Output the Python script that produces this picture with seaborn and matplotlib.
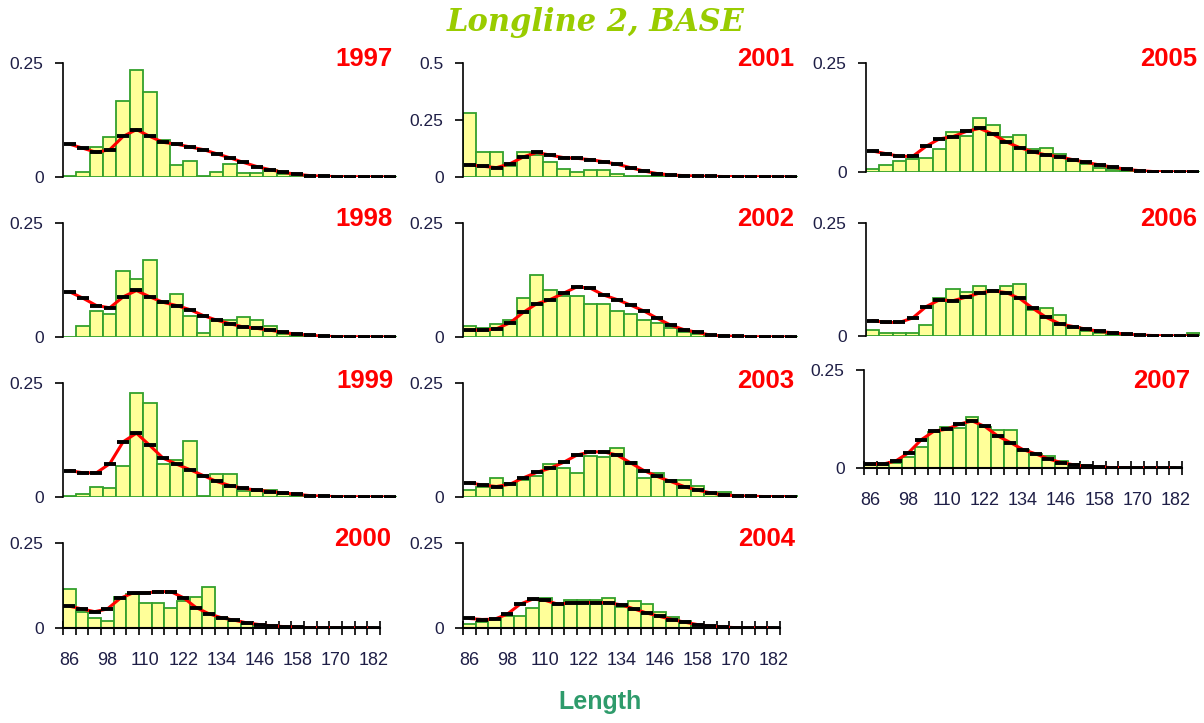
import numpy as np
import pandas as pd
import matplotlib
matplotlib.use("Agg")
import matplotlib.pyplot as plt
import seaborn as sns

# ---------------- data ----------------
lengths = [86, 90, 94, 98, 102, 106, 110, 114, 118, 122, 126, 130, 134, 138,
           142, 146, 150, 154, 158, 162, 166, 170, 174, 178, 182]
tick_labels = [86, 98, 110, 122, 134, 146, 158, 170, 182]
years = [1997, 1998, 1999, 2000, 2001, 2002, 2003, 2004, 2005, 2006, 2007]

obs_1997 = [0.003,0.012,0.065,0.087,0.166,0.234,0.187,0.082,0.027,0.034,0.003,0.012,0.028,0.009,0.009,0.015,0.007,0.001,0,0,0,0,0,0,0]
pred_1997 = [0.072,0.063,0.054,0.060,0.089,0.104,0.089,0.076,0.072,0.066,0.060,0.051,0.042,0.032,0.023,0.016,0.010,0.006,0.003,0.0015,0.001,0.0005,0.0003,0.0002,0.0001]
obs_1998 = [0.001,0.025,0.056,0.050,0.145,0.128,0.168,0.075,0.094,0.047,0.009,0.038,0.037,0.044,0.038,0.025,0.006,0.003,0.0015,0,0,0,0,0,0]
pred_1998 = [0.099,0.085,0.069,0.064,0.088,0.102,0.088,0.076,0.069,0.060,0.047,0.037,0.029,0.022,0.019,0.015,0.010,0.006,0.004,0.0015,0.001,0.0005,0.0003,0.0002,0.0001]
obs_1999 = [0.002,0.007,0.023,0.020,0.069,0.228,0.206,0.072,0.082,0.123,0.003,0.050,0.050,0.013,0.013,0.015,0.006,0.003,0.001,0.001,0,0,0,0,0]
pred_1999 = [0.058,0.053,0.053,0.073,0.121,0.140,0.113,0.085,0.072,0.060,0.047,0.034,0.025,0.019,0.015,0.012,0.009,0.006,0.003,0.0015,0.001,0.0005,0.0003,0.0002,0.0001]
obs_2000 = [0.115,0.046,0.029,0.021,0.092,0.101,0.075,0.075,0.059,0.080,0.092,0.122,0.029,0.020,0.013,0.009,0.005,0.003,0.002,0,0,0,0,0,0]
pred_2000 = [0.064,0.056,0.048,0.056,0.087,0.103,0.103,0.107,0.107,0.089,0.060,0.042,0.030,0.023,0.015,0.010,0.006,0.004,0.002,0.001,0.001,0.0005,0.0003,0.0002,0.0001]
obs_2001 = [0.281,0.111,0.111,0.050,0.111,0.097,0.067,0.035,0.023,0.029,0.029,0.012,0.006,0.003,0.003,0.002,0,0,0,0,0,0,0,0,0]
pred_2001 = [0.053,0.047,0.041,0.058,0.088,0.108,0.096,0.085,0.082,0.076,0.067,0.056,0.041,0.026,0.015,0.009,0.006,0.004,0.003,0.002,0.002,0.001,0.001,0.0005,0.0005]
obs_2002 = [0.025,0.019,0.028,0.038,0.085,0.135,0.104,0.091,0.091,0.072,0.072,0.057,0.050,0.038,0.031,0.019,0.010,0.006,0.0015,0,0,0,0,0,0]
pred_2002 = [0.015,0.015,0.018,0.031,0.054,0.073,0.082,0.096,0.110,0.107,0.092,0.082,0.070,0.057,0.041,0.026,0.016,0.010,0.004,0.002,0.0015,0.0005,0.0003,0.0002,0.0001]
obs_2003 = [0.016,0.023,0.041,0.031,0.038,0.047,0.072,0.064,0.053,0.091,0.088,0.107,0.076,0.041,0.053,0.037,0.037,0.025,0.009,0.010,0.003,0.003,0.001,0.001,0.003]
pred_2003 = [0.031,0.026,0.023,0.028,0.042,0.054,0.063,0.076,0.092,0.099,0.099,0.092,0.075,0.058,0.045,0.034,0.023,0.015,0.009,0.004,0.003,0.0015,0.001,0.001,0.001]
obs_2004 = [0.013,0.019,0.026,0.034,0.034,0.058,0.087,0.072,0.083,0.083,0.083,0.087,0.062,0.079,0.070,0.046,0.032,0.020,0.009,0.005,0.002,0,0,0,0]
pred_2004 = [0.028,0.025,0.026,0.041,0.070,0.085,0.081,0.070,0.074,0.075,0.075,0.074,0.068,0.056,0.044,0.034,0.025,0.017,0.010,0.005,0.003,0.001,0.0005,0.0003,0.0002]
obs_2005 = [0.007,0.016,0.025,0.029,0.033,0.053,0.092,0.082,0.124,0.107,0.081,0.085,0.052,0.055,0.042,0.025,0.018,0.010,0.005,0.002,0.001,0.0015,0,0,0]
pred_2005 = [0.048,0.042,0.036,0.036,0.059,0.076,0.081,0.093,0.100,0.087,0.069,0.056,0.046,0.039,0.035,0.028,0.022,0.016,0.011,0.006,0.003,0.001,0.0005,0.0003,0.0002]
obs_2006 = [0.013,0.006,0.006,0.007,0.025,0.083,0.105,0.098,0.111,0.101,0.111,0.114,0.058,0.061,0.047,0.021,0.010,0.006,0.003,0.0015,0.001,0,0,0,0.007]
pred_2006 = [0.034,0.030,0.030,0.040,0.065,0.080,0.078,0.086,0.095,0.100,0.096,0.083,0.061,0.041,0.027,0.021,0.015,0.010,0.007,0.004,0.002,0.001,0.0005,0.0003,0.0002]
obs_2007 = [0.008,0.008,0.014,0.028,0.053,0.091,0.104,0.101,0.130,0.104,0.096,0.096,0.045,0.036,0.031,0.017,0.009,0.006,0.003,0.0025,0.002,0.001,0,0,0]
pred_2007 = [0.010,0.010,0.018,0.039,0.072,0.094,0.099,0.112,0.120,0.106,0.082,0.065,0.047,0.036,0.023,0.014,0.008,0.004,0.0025,0.001,0.001,0.0005,0.0003,0.0002,0.0001]

observed = {1997: obs_1997, 1998: obs_1998, 1999: obs_1999, 2000: obs_2000,
            2001: obs_2001, 2002: obs_2002, 2003: obs_2003, 2004: obs_2004,
            2005: obs_2005, 2006: obs_2006, 2007: obs_2007}
predicted = {1997: pred_1997, 1998: pred_1998, 1999: pred_1999, 2000: pred_2000,
             2001: pred_2001, 2002: pred_2002, 2003: pred_2003, 2004: pred_2004,
             2005: pred_2005, 2006: pred_2006, 2007: pred_2007}

# ---------------- layout (pixels) ----------------
W, H = 1204, 723
# year: (left, right, y_of_top_tick, y_of_zero, ymax, bottom_row, label_right, label_top)
layout = {
    1997: (63, 397, 63, 177, 0.25, False, 393, 47),
    1998: (63, 397, 223, 337, 0.25, False, 393, 207),
    1999: (63, 397, 383, 497, 0.25, False, 393, 369),
    2000: (63, 380, 543, 628, 0.25, True, 391, 527),
    2001: (463, 798, 63, 177, 0.5, False, 794, 47),
    2002: (463, 798, 223, 337, 0.25, False, 794, 207),
    2003: (463, 798, 383, 497, 0.25, False, 794, 369),
    2004: (463, 780, 543, 628, 0.25, True, 795, 527),
    2005: (866, 1200, 63, 172, 0.25, False, 1197, 47),
    2006: (866, 1200, 223, 336, 0.25, False, 1197, 207),
    2007: (864, 1182, 370, 468, 0.25, True, 1190, 369),
}

sns.set_style("white")
plt.rcParams["font.family"] = ["Liberation Sans", "DejaVu Sans"]

fig = plt.figure(figsize=(W / 100, H / 100), dpi=100)

bar_fill = "#FFFF99"
bar_edge = "#33A02C"
tick_color = "#1E1E46"
edges = [84 + 4 * i for i in range(26)]

for yr in years:
    left, right, ytop, yzero, ymax, bottom_row, lab_r, lab_t = layout[yr]
    ax = fig.add_axes([left / W, 1 - yzero / H, (right - left) / W, (yzero - ytop) / H])
    df = pd.DataFrame({"Length": lengths, "obs": observed[yr], "pred": predicted[yr]})
    sns.barplot(data=df, x="Length", y="obs", native_scale=True, width=1,
                color=bar_fill, saturation=1, edgecolor=bar_edge, linewidth=1.3,
                errorbar=None, ax=ax, zorder=1)
    sns.lineplot(data=df, x="Length", y="pred", color="red", linewidth=2.2,
                 ax=ax, zorder=3)
    ax.plot(df["Length"], df["pred"], linestyle="none", marker="_",
            markersize=8.5, markeredgewidth=2.8, color="black", zorder=4)
    ax.set_xlim(84, 184)
    ax.set_ylim(0, ymax)
    ax.set_xlabel("")
    ax.set_ylabel("")
    for s in ["top", "right"]:
        ax.spines[s].set_visible(False)
    ax.spines["left"].set_color("black")
    ax.spines["left"].set_linewidth(1.2)
    yt = [0, 0.25] if ymax == 0.25 else [0, 0.25, 0.5]
    ax.set_yticks(yt)
    ax.set_yticklabels(["0" if v == 0 else f"{v:g}" for v in yt])
    ax.tick_params(axis="y", direction="out", length=6, width=1.2, color="black",
                   labelsize=12.5, labelcolor=tick_color, pad=8, left=True)
    if bottom_row:
        ax.spines["bottom"].set_visible(True)
        ax.spines["bottom"].set_color("black")
        ax.spines["bottom"].set_linewidth(1.5)
        ax.set_xticks(edges)
        ax.set_xticklabels([])
        ax.tick_params(axis="x", which="major", direction="inout", length=10,
                       width=1.2, color="black", bottom=True)
        ax.set_xticks(tick_labels, minor=True)
        ax.set_xticklabels([str(v) for v in tick_labels], minor=True)
        ax.tick_params(axis="x", which="minor", length=0, pad=17,
                       labelsize=13, labelcolor=tick_color)
    else:
        ax.spines["bottom"].set_visible(False)
        ax.set_xticks([])
    ax.patch.set_alpha(0)
    fig.text(lab_r / W, 1 - lab_t / H, str(yr), ha="right", va="top",
             color="#FF0000", fontsize=18.5, fontweight="bold")

fig.text(596 / W, 1 - 23 / H, "Longline 2, BASE", ha="center", va="center",
         color="#99CC00", fontsize=22, family="DejaVu Serif", style="italic",
         fontweight="bold")
fig.text(600 / W, 1 - 702 / H, "Length", ha="center", va="center",
         color="#2E9B6B", fontsize=18, fontweight="bold")

fig.savefig("out.png", dpi=100)
